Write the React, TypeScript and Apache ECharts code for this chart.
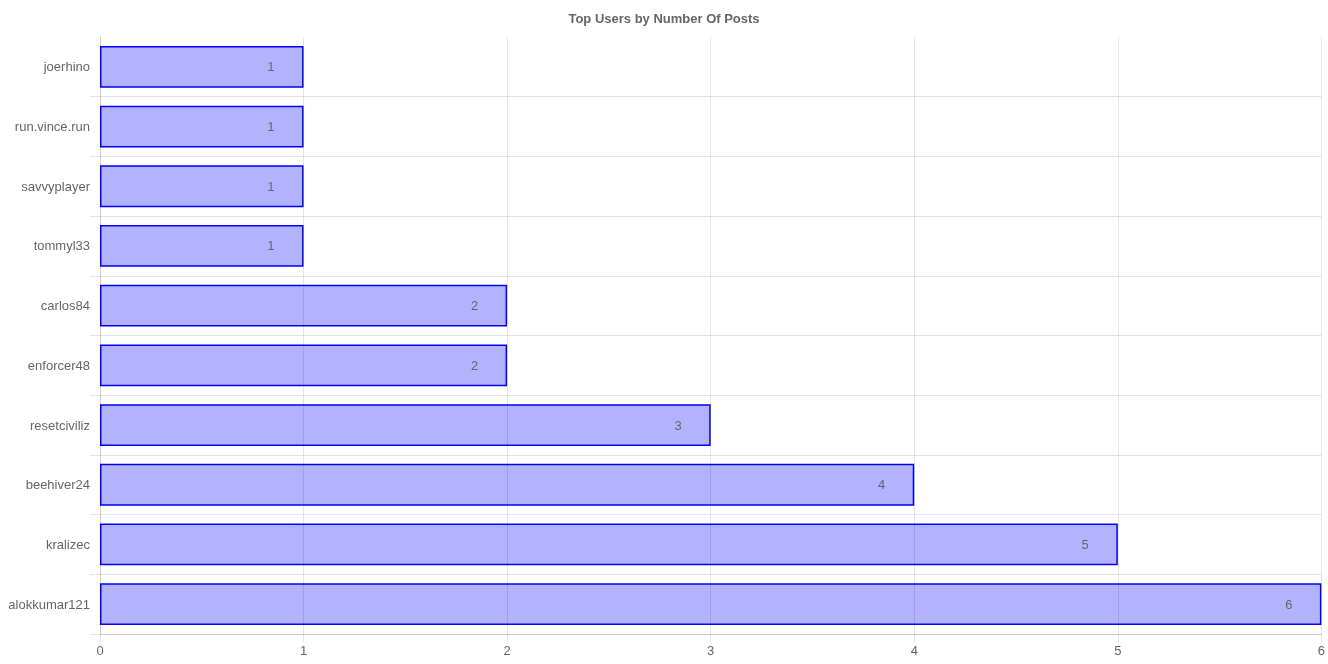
import React, { useEffect, useRef } from "react";
import * as echarts from "echarts";

const users = [
  "joerhino",
  "run.vince.run",
  "savvyplayer",
  "tommyl33",
  "carlos84",
  "enforcer48",
  "resetciviliz",
  "beehiver24",
  "kralizec",
  "alokkumar121",
];
const posts = [1, 1, 1, 1, 2, 2, 3, 4, 5, 6];
const xTicks = { min: 0, max: 6, interval: 1 };

const FONT = "'Liberation Sans', Arial, Helvetica, sans-serif";

export default function App() {
  const ref = useRef<HTMLDivElement>(null);
  useEffect(() => {
    if (!ref.current) return;
    const chart = echarts.init(ref.current, undefined, { renderer: "svg" });
    chart.setOption({
      animation: false,
      textStyle: { fontFamily: FONT },
      title: {
        text: "Top Users by Number Of Posts",
        left: "center",
        top: 7,
        textStyle: { fontSize: 13, fontWeight: "bold", color: "#666", fontFamily: FONT },
      },
      grid: { left: 100, right: 6, top: 37, bottom: 30, containLabel: false },
      xAxis: {
        type: "value",
        min: xTicks.min,
        max: xTicks.max,
        interval: xTicks.interval,
        z: 5,
        axisLine: { show: true, lineStyle: { color: "rgba(0,0,0,0.1)" } },
        axisTick: { show: true, length: 8, lineStyle: { color: "rgba(0,0,0,0.1)" } },
        axisLabel: { color: "#666666", fontSize: 13, margin: 10, fontFamily: FONT },
        splitLine: { show: true, lineStyle: { color: "rgba(0,0,0,0.1)" } },
      },
      yAxis: {
        type: "category",
        data: users,
        inverse: true,
        axisLine: { show: true, lineStyle: { color: "rgba(0,0,0,0.1)" } },
        axisTick: {
          show: true,
          length: 10,
          interval: (i: number) => i !== 0,
          lineStyle: { color: "rgba(0,0,0,0.1)" },
        },
        axisLabel: { color: "#666666", fontSize: 13, margin: 10, fontFamily: FONT },
        splitLine: {
          show: true,
          interval: (i: number) => i !== 0,
          lineStyle: { color: "rgba(0,0,0,0.1)" },
        },
      },
      series: [
        {
          type: "bar",
          data: posts,
          barCategoryGap: "30%",
          itemStyle: {
            color: "rgba(0,0,255,0.3)",
            borderColor: "#0000ff",
            borderWidth: 1.5,
          },
          label: {
            show: true,
            position: "insideRight",
            distance: 29,
            color: "#666666",
            fontSize: 13,
            fontFamily: FONT,
          },
        },
      ],
    });
    return () => chart.dispose();
  }, []);
  return (
    <div
      ref={ref}
      style={{ width: 1328, height: 664, position: "fixed", left: 0, top: 0 }}
    />
  );
}
